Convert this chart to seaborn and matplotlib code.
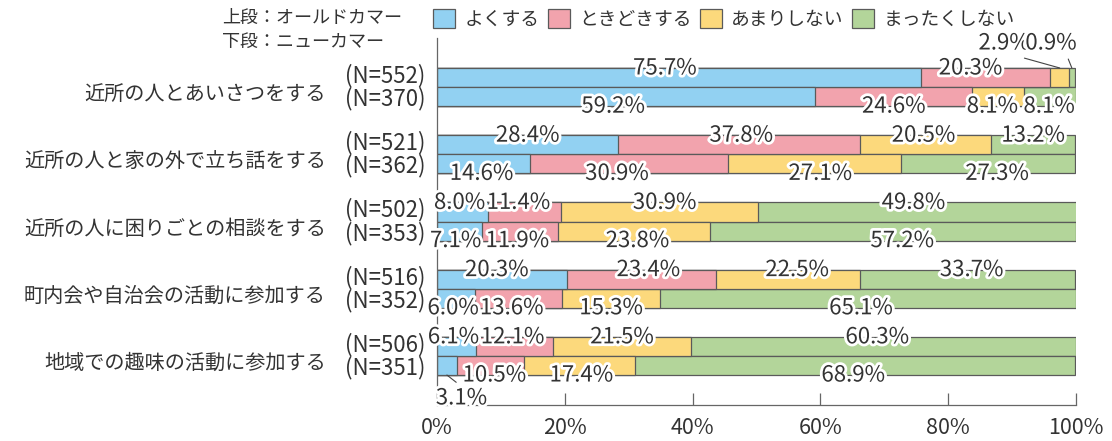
import numpy as np
import pandas as pd
import seaborn as sns
import matplotlib
matplotlib.use("Agg")
import matplotlib.pyplot as plt
from matplotlib.patches import Patch
from matplotlib.transforms import ScaledTranslation
import matplotlib.patheffects as pe

# ---------------- data ----------------
categories = ["近所の人とあいさつをする", "近所の人と家の外で立ち話をする",
              "近所の人に困りごとの相談をする", "町内会や自治会の活動に参加する",
              "地域での趣味の活動に参加する"]
cohorts = ["オールドカマー", "ニューカマー"]
responses = ["よくする", "ときどきする", "あまりしない", "まったくしない"]
n_old = [552, 521, 502, 516, 506]
n_new = [370, 362, 353, 352, 351]
old_often = [75.7, 28.4, 8.0, 20.3, 6.1]
old_sometimes = [20.3, 37.8, 11.4, 23.4, 12.1]
old_rarely = [2.9, 20.5, 30.9, 22.5, 21.5]
old_never = [0.9, 13.2, 49.8, 33.7, 60.3]
new_often = [59.2, 14.6, 7.1, 6.0, 3.1]
new_sometimes = [24.6, 30.9, 11.9, 13.6, 10.5]
new_rarely = [8.1, 27.1, 23.8, 15.3, 17.4]
new_never = [8.1, 27.3, 57.2, 65.1, 68.9]
colors = ["#92d1f2", "#f2a3ad", "#fcd97c", "#b3d59a"]

# ---------------- style ----------------
sns.set_style("ticks")
FONT = ["Noto Sans CJK JP", "DejaVu Sans"]
plt.rcParams["font.family"] = FONT
TXT = "#333333"
EDGE = "#5a5a5a"

old_vals = [old_often, old_sometimes, old_rarely, old_never]
new_vals = [new_often, new_sometimes, new_rarely, new_never]
rows = []
for ci, cat in enumerate(categories):
    for coh, vals in zip(cohorts, [old_vals, new_vals]):
        cum = 0.0
        for ri, resp in enumerate(responses):
            v = vals[ri][ci]
            start = cum
            cum += v
            rows.append(dict(category=cat, cohort=coh, response=resp,
                             value=v, start=start, end=cum, ci=ci, ri=ri))
df = pd.DataFrame(rows)

fig = plt.figure(figsize=(11.12, 4.41), dpi=100)
ax = fig.add_axes([437 / 1112, 1 - 405 / 441, (1076 - 437) / 1112, (405 - 38) / 441])

BAR_W = 0.568
for ri in range(len(responses) - 1, -1, -1):
    sub = df[df["response"] == responses[ri]]
    sns.barplot(data=sub, x="end", y="category", hue="cohort",
                order=categories, hue_order=cohorts,
                palette=[colors[ri], colors[ri]], saturation=1,
                width=BAR_W, edgecolor=EDGE, linewidth=0.9,
                errorbar=None, legend=False, orient="h", ax=ax)

ax.set_xlim(0, 100)
ax.set_ylim(4.73, -0.73)
ax.set_xlabel("")
ax.set_ylabel("")
ax.set_xticks([0, 20, 40, 60, 80, 100])
ax.set_xticklabels([f"{t}%" for t in [0, 20, 40, 60, 80, 100]])
ax.tick_params(axis="x", direction="in", length=8.5, width=0.9, color="#666666",
               labelsize=15.5, labelcolor=TXT, pad=9)
ax.tick_params(axis="y", length=0, pad=80, labelsize=14.5, labelcolor=TXT)
shift = ScaledTranslation(0, -5 / 100, fig.dpi_scale_trans)
for lab in ax.get_yticklabels():
    lab.set_transform(lab.get_transform() + shift)
for s in ["top", "right"]:
    ax.spines[s].set_visible(False)
for s in ["left", "bottom"]:
    ax.spines[s].set_color("#666666")
    ax.spines[s].set_linewidth(0.9)

half = BAR_W / 2
stroke = [pe.withStroke(linewidth=4, foreground="white")]

# N labels
for ci in range(len(categories)):
    for n, dy in [(n_old[ci], -0.17), (n_new[ci], 0.175)]:
        ax.annotate(f"(N={n})", xy=(0, ci + dy), xycoords=("axes fraction", "data"),
                    xytext=(-66, 0), textcoords="offset points",
                    ha="left", va="center", fontsize=16, color=TXT)

# percentage labels (horizontal nudges in pixels)
PCT = 16
nudge = {(0, 0, 0): -14, (0, 0, 1): -15, (0, 1, 0): -13, (0, 1, 2): -6, (0, 1, 3): -1,
         (1, 0, 1): 2, (1, 0, 2): -2, (1, 1, 0): -2, (1, 1, 1): -12, (1, 1, 2): 6,
         (1, 1, 3): 9,
         (2, 0, 0): -3, (2, 0, 1): -6, (2, 0, 2): 5, (2, 0, 3): -4,
         (2, 1, 0): -4, (2, 1, 1): -3, (2, 1, 2): 3, (2, 1, 3): 9,
         (3, 0, 0): -5, (3, 0, 1): 7, (3, 0, 2): 9, (3, 0, 3): 4,
         (3, 1, 0): -3, (3, 1, 1): -7, (3, 1, 3): -7,
         (4, 0, 0): -3, (4, 0, 1): -2, (4, 0, 3): -6,
         (4, 1, 1): 4, (4, 1, 2): 2, (4, 1, 3): -2}
callouts = {(0, 0, 2): ((-40, 18), (0.64, 0)),
            (0, 0, 3): ((-15, 18), (0.8, 0)),
            (4, 1, 0): ((10.5, -16.5), (0.5, 1))}
for _, r in df.iterrows():
    k = int(cohorts.index(r["cohort"]))
    key = (int(r["ci"]), k, int(r["ri"]))
    mid = (r["start"] + r["end"]) / 2
    y = r["ci"] - half if k == 0 else r["ci"] + half
    lab = f"{r['value']:.1f}%"
    if key in callouts:
        off, rel = callouts[key]
        ax.annotate(lab, xy=(mid, y), xytext=off, textcoords="offset points",
                    ha="center", va="center", fontsize=PCT, color=TXT,
                    path_effects=stroke, annotation_clip=False,
                    arrowprops=dict(arrowstyle="-", color="#444444", lw=0.8,
                                    shrinkA=1, shrinkB=0, relpos=rel))
    else:
        ax.annotate(lab, xy=(mid, y), xytext=(nudge.get(key, 0) * 0.72, 0),
                    textcoords="offset points", ha="center", va="center",
                    fontsize=PCT, color=TXT, path_effects=stroke)

# header text and legend
fig.text(222 / 1112, 1 - 18 / 441, "上段：オールドカマー", ha="left", va="center",
         fontsize=13, color=TXT)
fig.text(222 / 1112, 1 - 42 / 441, "下段：ニューカマー", ha="left", va="center",
         fontsize=13, color=TXT)
handles = [Patch(facecolor=c, edgecolor=EDGE, linewidth=0.9, label=r)
           for c, r in zip(colors, responses)]
fig.legend(handles=handles, loc="center left",
           bbox_to_anchor=(433 / 1112, 1 - 19 / 441), ncol=4, frameon=False,
           fontsize=13.5, handlelength=1.17, handleheight=1.17, handletextpad=0.5,
           columnspacing=0.45, borderpad=0, borderaxespad=0, labelcolor=TXT)

fig.savefig("out.png", dpi=100)
